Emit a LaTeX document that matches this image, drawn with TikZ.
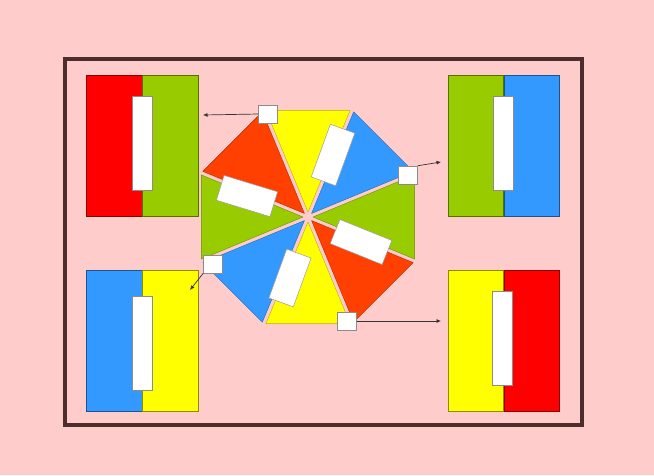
\documentclass[tikz,border=0pt]{standalone}
\usepackage{xcolor}
\usetikzlibrary{arrows.meta,positioning}
\definecolor{bgPink}{RGB}{255,204,204}
\definecolor{frameDark}{RGB}{77,46,46}
\definecolor{boxRed}{RGB}{255,0,0}
\definecolor{boxGreen}{RGB}{153,204,0}
\definecolor{boxBlue}{RGB}{51,153,255}
\definecolor{boxYellow}{RGB}{255,255,0}
\definecolor{octRed}{RGB}{255,64,0}
\tikzset{
    half/.style={rectangle,draw=#1!55!black,fill=#1,line width=0.5pt,minimum width=55.5pt,
        minimum height=141pt,inner sep=0pt},
    bar/.style={rectangle,draw=black!45,fill=white,line width=0.5pt,minimum width=20pt,
        minimum height=94pt,inner sep=0pt},
    plate/.style={rectangle,draw=black!40,fill=white,line width=0.5pt,minimum width=56pt,
        minimum height=26pt,inner sep=0pt},
    port/.style={rectangle,draw=black!45,fill=white,line width=0.5pt,minimum width=19pt,
        minimum height=18pt,inner sep=0pt},
    wedge/.style={draw=#1!70!black,fill=#1,line width=0.4pt,line join=round},
    outerframe/.style={draw=frameDark,line width=3.5pt},
    arr/.style={-{Latex[length=4.5pt,width=4pt]},draw=black!80,line width=0.7pt}
}
\begin{document}
\begin{tikzpicture}[x=1pt,y=-1pt]
    \useasboundingbox[fill=bgPink] (0,0) rectangle (654,475);
    \draw[outerframe] (65,59) rectangle (582,425);

    \node[half=boxRed]    (tlL) at (114,145.5) {};
    \node[half=boxGreen,right=0pt of tlL]  (tlR) {};
    \node[half=boxGreen]  (trL) at (475.5,145.5) {};
    \node[half=boxBlue,right=0pt of trL]   (trR) {};
    \node[half=boxBlue]   (blL) at (114,340.5) {};
    \node[half=boxYellow,right=0pt of blL] (blR) {};
    \node[half=boxYellow] (brL) at (475.5,340.5) {};
    \node[half=boxRed,right=0pt of brL]    (brR) {};

    \node[bar] (tlBar) at (142,143) {};
    \node[bar] (trBar) at (503,143) {};
    \node[bar] (blBar) at (142,343) {};
    \node[bar] (brBar) at (502.5,338) {};

    \begin{scope}[shift={(308,217)},yscale=-1]
        \path[wedge=boxYellow,shift={(90:5)}]   (0,0) -- (67.5:110)   -- (112.5:110) -- cycle;
        \path[wedge=boxBlue,shift={(45:5)}]     (0,0) -- (22.5:110)   -- (67.5:110)  -- cycle;
        \path[wedge=boxGreen,shift={(0:5)}]     (0,0) -- (-22.5:110)  -- (22.5:110)  -- cycle;
        \path[wedge=octRed,shift={(-45:5)}]     (0,0) -- (-67.5:110)  -- (-22.5:110) -- cycle;
        \path[wedge=boxYellow,shift={(-90:5)}]  (0,0) -- (-112.5:110) -- (-67.5:110) -- cycle;
        \path[wedge=boxBlue,shift={(-135:5)}]   (0,0) -- (-157.5:110) -- (-112.5:110) -- cycle;
        \path[wedge=boxGreen,shift={(180:5)}]   (0,0) -- (157.5:110)  -- (202.5:110) -- cycle;
        \path[wedge=octRed,shift={(135:5)}]     (0,0) -- (112.5:110)  -- (157.5:110) -- cycle;
    \end{scope}

    \node[plate,rotate=70]  (plateA) at (333,155) {};
    \node[plate,rotate=-17] (plateB) at (247,196) {};
    \node[plate,rotate=-22] (plateC) at (361,242) {};
    \node[plate,rotate=70,minimum width=52pt] (plateD) at (290,278) {};

    \node[port] (portA) at (268,114) {};
    \node[port] (portB) at (408,175) {};
    \node[port] (portC) at (213,264) {};
    \node[port] (portD) at (347,321) {};

    \coordinate (tipA) at (203,115);
    \coordinate (tipB) at (441,162);
    \coordinate (tipC) at (190,290);
    \coordinate (tipD) at (441,321);

    \draw[arr] (portA.west) -- (tipA);
    \draw[arr] (portB.north east) -- (tipB);
    \draw[arr] (portC.south west) -- (tipC);
    \draw[arr] (portD.east) -- (tipD);
\end{tikzpicture}
\end{document}
